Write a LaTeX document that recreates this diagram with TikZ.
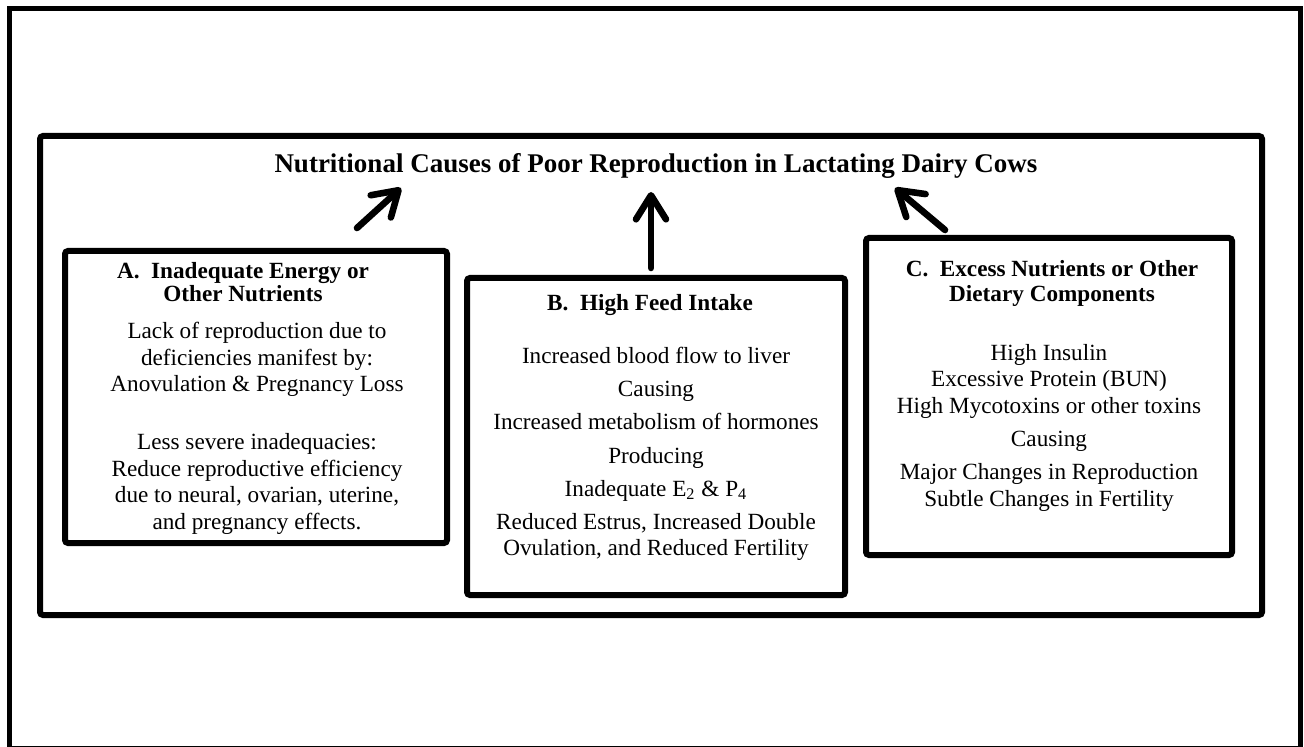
\documentclass[tikz,border=0pt]{standalone}
\usepackage{fontspec}
\setmainfont{Liberation Serif}
\usetikzlibrary{arrows.meta,shadows}

\begin{document}
\begin{tikzpicture}[x=0.5pt,y=-0.5pt,
    frame/.style={draw,line width=3pt,rounded corners=1.5pt,fill=white,outer sep=0pt,
      drop shadow={opacity=0.3,shadow xshift=1pt,shadow yshift=-1pt}},
    head/.style={font=\bfseries\fontsize{11.6}{12.5}\selectfont,align=center,inner sep=0pt,anchor=north},
    body/.style={font=\fontsize{11.6}{13.25}\selectfont,align=center,inner sep=0pt,anchor=north},
    uparrow/.style={line width=3.3pt,line cap=round,-{Straight Barb[length=12pt,width=15pt,round]}}]

    \useasboundingbox (0,0) rectangle (1304,747);
    \draw[line width=2.2pt] (9.5,8.5) rectangle (1300.5,748);

    \node[frame,minimum width=611pt,minimum height=239.5pt] (main) at (651,375.5) {};
    \node[font=\bfseries\fontsize{13.5}{16}\selectfont] (title) at (656,166)
        {Nutritional Causes of Poor Reproduction in Lactating Dairy Cows};

    \node[frame,minimum width=191pt,minimum height=146pt] (boxA) at (256,397) {};
    \node[frame,minimum width=189pt,minimum height=158.5pt] (boxB) at (656,436.5) {};
    \node[frame,minimum width=183pt,minimum height=158.5pt] (boxC) at (1049,396.5) {};

    \node[head,font=\bfseries\fontsize{11.6}{10.5}\selectfont] (headA) at (243,262)
        {A.\hspace{0.5em}Inadequate Energy or\\Other Nutrients};
    \node[body] (textA) at (257,322)
        {Lack of reproduction due to\\deficiencies manifest by:\\Anovulation \& Pregnancy Loss\\[15.75pt]
         Less severe inadequacies:\\Reduce reproductive efficiency\\due to neural, ovarian, uterine,\\and pregnancy effects.};

    \node[head] (headB) at (650,294) {B.\hspace{0.5em}High Feed Intake};
    \node[body] (textB) at (656,347)
        {Increased blood flow to liver\\[3.3pt]Causing\\[3.3pt]Increased metabolism of hormones\\[3.3pt]
         Producing\\[3.3pt]Inadequate E\textsubscript{2} \& P\textsubscript{4}\\[3.3pt]
         Reduced Estrus, Increased Double\\Ovulation, and Reduced Fertility};

    \node[head] (headC) at (1052,260) {C.\hspace{0.5em}Excess Nutrients or Other\\Dietary Components};
    \node[body] (textC) at (1049,344)
        {High Insulin\\Excessive Protein (BUN)\\High Mycotoxins or other toxins\\[3.3pt]
         Causing\\[3.3pt]Major Changes in Reproduction\\Subtle Changes in Fertility};

    \coordinate (tailA) at (357,228);
    \coordinate (tipA) at (401,188);
    \coordinate (tailB) at (651,268);
    \coordinate (tipB) at (651,192);
    \coordinate (tailC) at (945,230);
    \coordinate (tipC) at (895,188);

    \draw[uparrow] (tailA) -- (tipA);
    \draw[uparrow] (tailB) -- (tipB);
    \draw[uparrow] (tailC) -- (tipC);
\end{tikzpicture}
\end{document}
